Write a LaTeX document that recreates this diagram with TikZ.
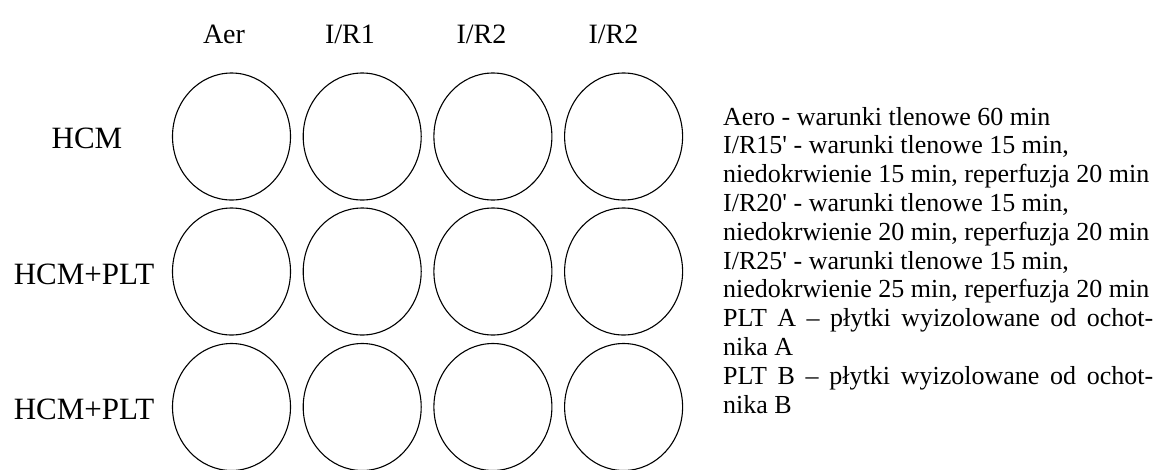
\documentclass[tikz,border=0pt]{standalone}
\usepackage{fontspec}
\setmainfont{Liberation Serif}
\newfontfamily\lib{Liberation Serif}
\usetikzlibrary{shapes.geometric}
\begin{document}
\begin{tikzpicture}[x=1pt,y=-1pt,
  well/.style={draw, ellipse, line width=1.1pt, minimum width=118pt, minimum height=127pt, inner sep=0pt},
  collab/.style={anchor=base, font=\lib\fontsize{28}{30}\selectfont, inner sep=0pt},
  rowlab/.style={anchor=base, font=\lib\fontsize{31}{33}\selectfont, inner sep=0pt},
  legend/.style={anchor=base west, font=\lib\fontsize{26}{29}\selectfont, inner sep=0pt}]
\useasboundingbox (0,0) rectangle (1155,469);
% wells
\foreach \c/\x in {1/231.5,2/362.2,3/492.9,4/623.6}{
  \foreach \r/\y in {1/136.5,2/271.5,3/407}{
    \node[well] (w\r\c) at (\x,\y) {};
  }
}
% column labels
\node[collab] (c1) at (224,43) {Aer};
\node[collab] (c2) at (350,43) {I/R1};
\node[collab] (c3) at (481.5,43) {I/R2};
\node[collab] (c4) at (613.5,43) {I/R2};
% row labels
\node[rowlab] (r1) at (87,148) {HCM};
\node[rowlab] (r2) at (84,284) {HCM+PLT};
\node[rowlab] (r3) at (84,419) {HCM+PLT};
% legend
\node[legend] (l1)  at (723,125)   {Aero - warunki tlenowe 60 min};
\node[legend] (l2)  at (723,153.8) {I/R15' - warunki tlenowe 15 min,};
\node[legend] (l3)  at (723,182.6) {niedokrwienie 15 min, reperfuzja 20 min};
\node[legend] (l4)  at (723,211.4) {I/R20' - warunki tlenowe 15 min,};
\node[legend] (l5)  at (723,240.2) {niedokrwienie 20 min, reperfuzja 20 min};
\node[legend] (l6)  at (723,269.0) {I/R25' - warunki tlenowe 15 min,};
\node[legend] (l7)  at (723,297.8) {niedokrwienie 25 min, reperfuzja 20 min};
\node[legend] (l8)  at (723,326.6) {\makebox[430pt][s]{PLT A – płytki wyizolowane od ochot-}};
\node[legend] (l9)  at (723,355.4) {nika A};
\node[legend] (l10) at (723,384.2) {\makebox[430pt][s]{PLT B – płytki wyizolowane od ochot-}};
\node[legend] (l11) at (723,413.0) {nika B};
\end{tikzpicture}
\end{document}
